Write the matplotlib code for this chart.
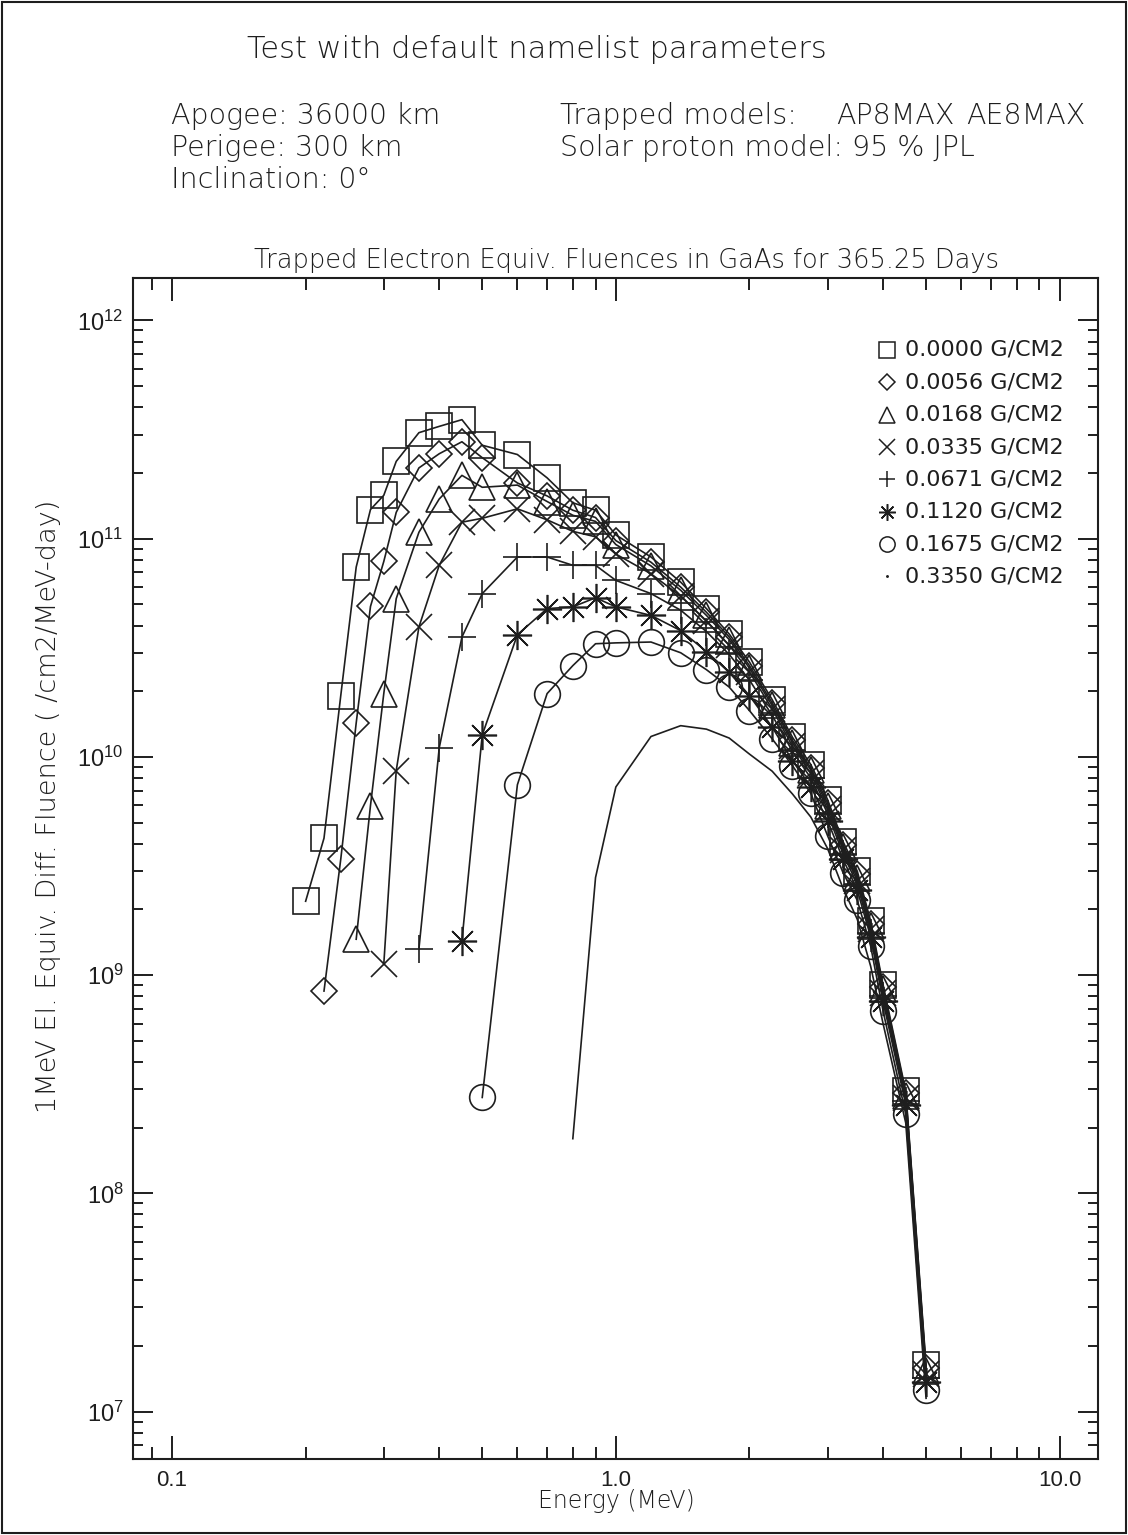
import numpy as np
import matplotlib
matplotlib.use("Agg")
import matplotlib.pyplot as plt
from matplotlib.ticker import LogLocator, FuncFormatter, NullFormatter, LogFormatterMathtext
from matplotlib.patches import Rectangle

# ── Data ────────────────────────────────────────────────────────────────
nan = np.nan
energy = [0.20, 0.22, 0.24, 0.26, 0.28, 0.30, 0.32, 0.36, 0.40, 0.45,
          0.50, 0.60, 0.70, 0.80, 0.90, 1.0, 1.2, 1.4, 1.6, 1.8,
          2.0, 2.25, 2.5, 2.75, 3.0, 3.25, 3.5, 3.75, 4.0, 4.5, 5.0]

f_0000 = [2.18e9, 4.24e9, 1.91e10, 7.41e10, 1.36e11, 1.58e11, 2.26e11, 3.06e11, 3.27e11, 3.51e11,
          2.68e11, 2.43e11, 1.90e11, 1.46e11, 1.35e11, 1.04e11, 8.24e10, 6.32e10, 4.78e10, 3.66e10,
          2.72e10, 1.83e10, 1.23e10, 9.22e9, 6.37e9, 4.09e9, 2.99e9, 1.77e9, 9.04e8, 2.94e8, 1.63e7]
f_0056 = [nan, 8.45e8, 3.40e9, 1.43e10, 4.89e10, 7.86e10, 1.32e11, 2.11e11, 2.45e11, 2.78e11,
          2.35e11, 1.80e11, 1.57e11, 1.35e11, 1.25e11, 9.8e10, 7.8e10, 6.0e10, 4.6e10, 3.55e10,
          2.62e10, 1.77e10, 1.19e10, 8.9e9, 6.15e9, 3.95e9, 2.90e9, 1.72e9, 8.8e8, 2.87e8, 1.58e7]
f_0168 = [nan, nan, nan, 1.46e9, 5.98e9, 1.95e10, 5.31e10, 1.07e11, 1.52e11, 1.95e11,
          1.72e11, 1.76e11, 1.48e11, 1.28e11, 1.20e11, 9.4e10, 7.5e10, 5.8e10, 4.45e10, 3.45e10,
          2.55e10, 1.72e10, 1.16e10, 8.7e9, 5.95e9, 3.85e9, 2.80e9, 1.68e9, 8.6e8, 2.80e8, 1.53e7]
f_0335 = [nan, nan, nan, nan, nan, 1.12e9, 8.65e9, 3.94e10, 7.55e10, 1.19e11,
          1.24e11, 1.37e11, 1.22e11, 1.08e11, 1.02e11, 8.5e10, 6.9e10, 5.45e10, 4.2e10, 3.25e10,
          2.45e10, 1.66e10, 1.12e10, 8.4e9, 5.75e9, 3.75e9, 2.70e9, 1.62e9, 8.3e8, 2.72e8, 1.48e7]
f_0671 = [nan, nan, nan, nan, nan, nan, nan, 1.32e9, 1.10e10, 3.54e10,
          5.60e10, 8.24e10, 8.24e10, 7.55e10, 7.55e10, 6.44e10, 5.60e10, 4.7e10, 3.75e10, 2.95e10,
          2.25e10, 1.55e10, 1.06e10, 8.0e9, 5.5e9, 3.6e9, 2.60e9, 1.56e9, 8.0e8, 2.65e8, 1.43e7]
f_1120 = [nan, nan, nan, nan, nan, nan, nan, nan, nan, 1.44e9,
          1.26e10, 3.63e10, 4.78e10, 4.87e10, 5.36e10, 4.87e10, 4.45e10, 3.79e10, 3.04e10, 2.44e10,
          1.91e10, 1.37e10, 9.6e9, 7.3e9, 5.1e9, 3.4e9, 2.45e9, 1.50e9, 7.6e8, 2.55e8, 1.36e7]
f_1675 = [nan, nan, nan, nan, nan, nan, nan, nan, nan, nan,
          2.75e8, 7.45e9, 1.95e10, 2.62e10, 3.30e10, 3.33e10, 3.36e10, 3.0e10, 2.51e10, 2.09e10,
          1.63e10, 1.21e10, 9.12e9, 6.8e9, 4.35e9, 2.95e9, 2.20e9, 1.36e9, 6.86e8, 2.30e8, 1.26e7]
f_3350 = [nan, nan, nan, nan, nan, nan, nan, nan, nan, nan,
          nan, nan, nan, 1.78e8, 2.8e9, 7.28e9, 1.24e10, 1.39e10, 1.34e10, 1.22e10,
          1.03e10, 8.6e9, 6.76e9, 5.3e9, 3.8e9, 2.5e9, 1.80e9, 1.10e9, 6.0e8, 2.10e8, 1.15e7]

series = [f_0000, f_0056, f_0168, f_0335, f_0671, f_1120, f_1675, f_3350]
labels = ["0.0000 G/CM2", "0.0056 G/CM2", "0.0168 G/CM2", "0.0335 G/CM2",
          "0.0671 G/CM2", "0.1120 G/CM2", "0.1675 G/CM2", "0.3350 G/CM2"]
markers = ["s", "D", "^", "x", "+", (8, 2, 0), "o", None]
msizes = [18.5, 13.5, 18.5, 19, 19.5, 21, 18.5, 0]

# ── Figure ───────────────────────────────────────────────────────────────
W, H = 1128, 1535
INK = "#1e1e1e"
HERSHEY = "DejaVu Sans"

plt.rcParams["font.family"] = ["Liberation Sans", "DejaVu Sans"]
plt.rcParams["mathtext.fontset"] = "custom"
plt.rcParams["mathtext.rm"] = "Liberation Sans"

fig = plt.figure(figsize=(W / 100, H / 100), dpi=100)


def fx(px):
    return px / W


def fy(py):
    return 1 - py / H


fig.patches.append(Rectangle((0.002, 0.0015), 0.996, 0.997, transform=fig.transFigure,
                             fill=False, lw=1.5, edgecolor=INK))

# header text (stroke-font look: light DejaVu)
hdr = dict(family=HERSHEY, weight="light", color=INK, va="baseline", ha="left")
fig.text(fx(247), fy(58), "Test with default namelist parameters", fontsize=22, **hdr)
fig.text(fx(171), fy(124), "Apogee: 36000 km", fontsize=20.5, **hdr)
fig.text(fx(171), fy(156.5), "Perigee: 300 km", fontsize=20.5, **hdr)
fig.text(fx(171), fy(188.5), "Inclination: 0°", fontsize=20.5, **hdr)
fig.text(fx(560), fy(124), "Trapped models:", fontsize=20.5, **hdr)
fig.text(fx(836), fy(124), "AP8MAX", fontsize=20.5, **hdr)
fig.text(fx(966), fy(124), "AE8MAX", fontsize=20.5, **hdr)
fig.text(fx(560), fy(156.5), "Solar proton model: 95 % JPL", fontsize=20.5, **hdr)

ax = fig.add_axes([fx(133.3), fy(1458.7), fx(1098) - fx(133.3), fy(277.7) - fy(1458.7)])

for f, m, ms in zip(series, markers, msizes):
    ax.plot(energy, f, color=INK, lw=1.2, marker=m, ms=ms, mfc="none", mew=1.2)

ax.set_xscale("log")
ax.set_yscale("log")
ax.set_xlim(0.0818, 12.2)
ax.set_ylim(6.08e6, 1.57e12)

ax.xaxis.set_major_locator(LogLocator(base=10, numticks=10))
ax.xaxis.set_minor_locator(LogLocator(base=10, subs=np.arange(2, 10), numticks=20))
ax.xaxis.set_major_formatter(FuncFormatter(lambda v, p: f"{v:.1f}"))
ax.xaxis.set_minor_formatter(NullFormatter())
ax.yaxis.set_major_locator(LogLocator(base=10, numticks=10))
ax.yaxis.set_minor_locator(LogLocator(base=10, subs=np.arange(2, 10), numticks=20))
ax.yaxis.set_major_formatter(LogFormatterMathtext())
ax.yaxis.set_minor_formatter(NullFormatter())

ax.tick_params(which="both", direction="in", top=True, right=True, color=INK, width=1.4,
               labelcolor=INK)
ax.tick_params(axis="x", which="major", length=16.5, pad=8, labelsize=16)
ax.tick_params(axis="x", which="minor", length=8.6)
ax.tick_params(axis="y", which="major", length=14.4, pad=7, labelsize=17)
ax.tick_params(axis="y", which="minor", length=7.2)
for s in ax.spines.values():
    s.set_linewidth(1.5)
    s.set_color(INK)

fig.text(fx(626), fy(268), "Trapped Electron Equiv. Fluences in GaAs for 365.25 Days",
         fontsize=18.5, ha="center", family=HERSHEY, weight="light", color=INK, va="baseline")
fig.text(fx(616), fy(1501), "Energy (MeV)", family=HERSHEY, weight="light", fontsize=17,
         color=INK, ha="center", va="center")
fig.text(fx(49), fy(806), "1MeV El. Equiv. Diff. Fluence ( /cm2/MeV-day)", family=HERSHEY,
         weight="light", fontsize=19.5, color=INK, ha="center", va="center", rotation=90)

# legend, drawn by hand in axes coordinates
leg_marks = ["s", "D", "^", "x", "+", (8, 2, 0), "o", "."]
leg_sizes = [11, 8, 11, 11, 12, 12, 11, 2]
for i, (lab, m, ms) in enumerate(zip(labels, leg_marks, leg_sizes)):
    yy = 0.9388 - i * 0.0274
    ax.plot([0.781], [yy], transform=ax.transAxes, marker=m, ms=ms, mfc="none", mew=1.1,
            color=INK, linestyle="none", clip_on=False)
    ax.text(0.800, yy, lab, transform=ax.transAxes, fontsize=16, family="DejaVu Sans",
            color=INK, va="center", ha="left")

fig.savefig("out.png", dpi=100)
